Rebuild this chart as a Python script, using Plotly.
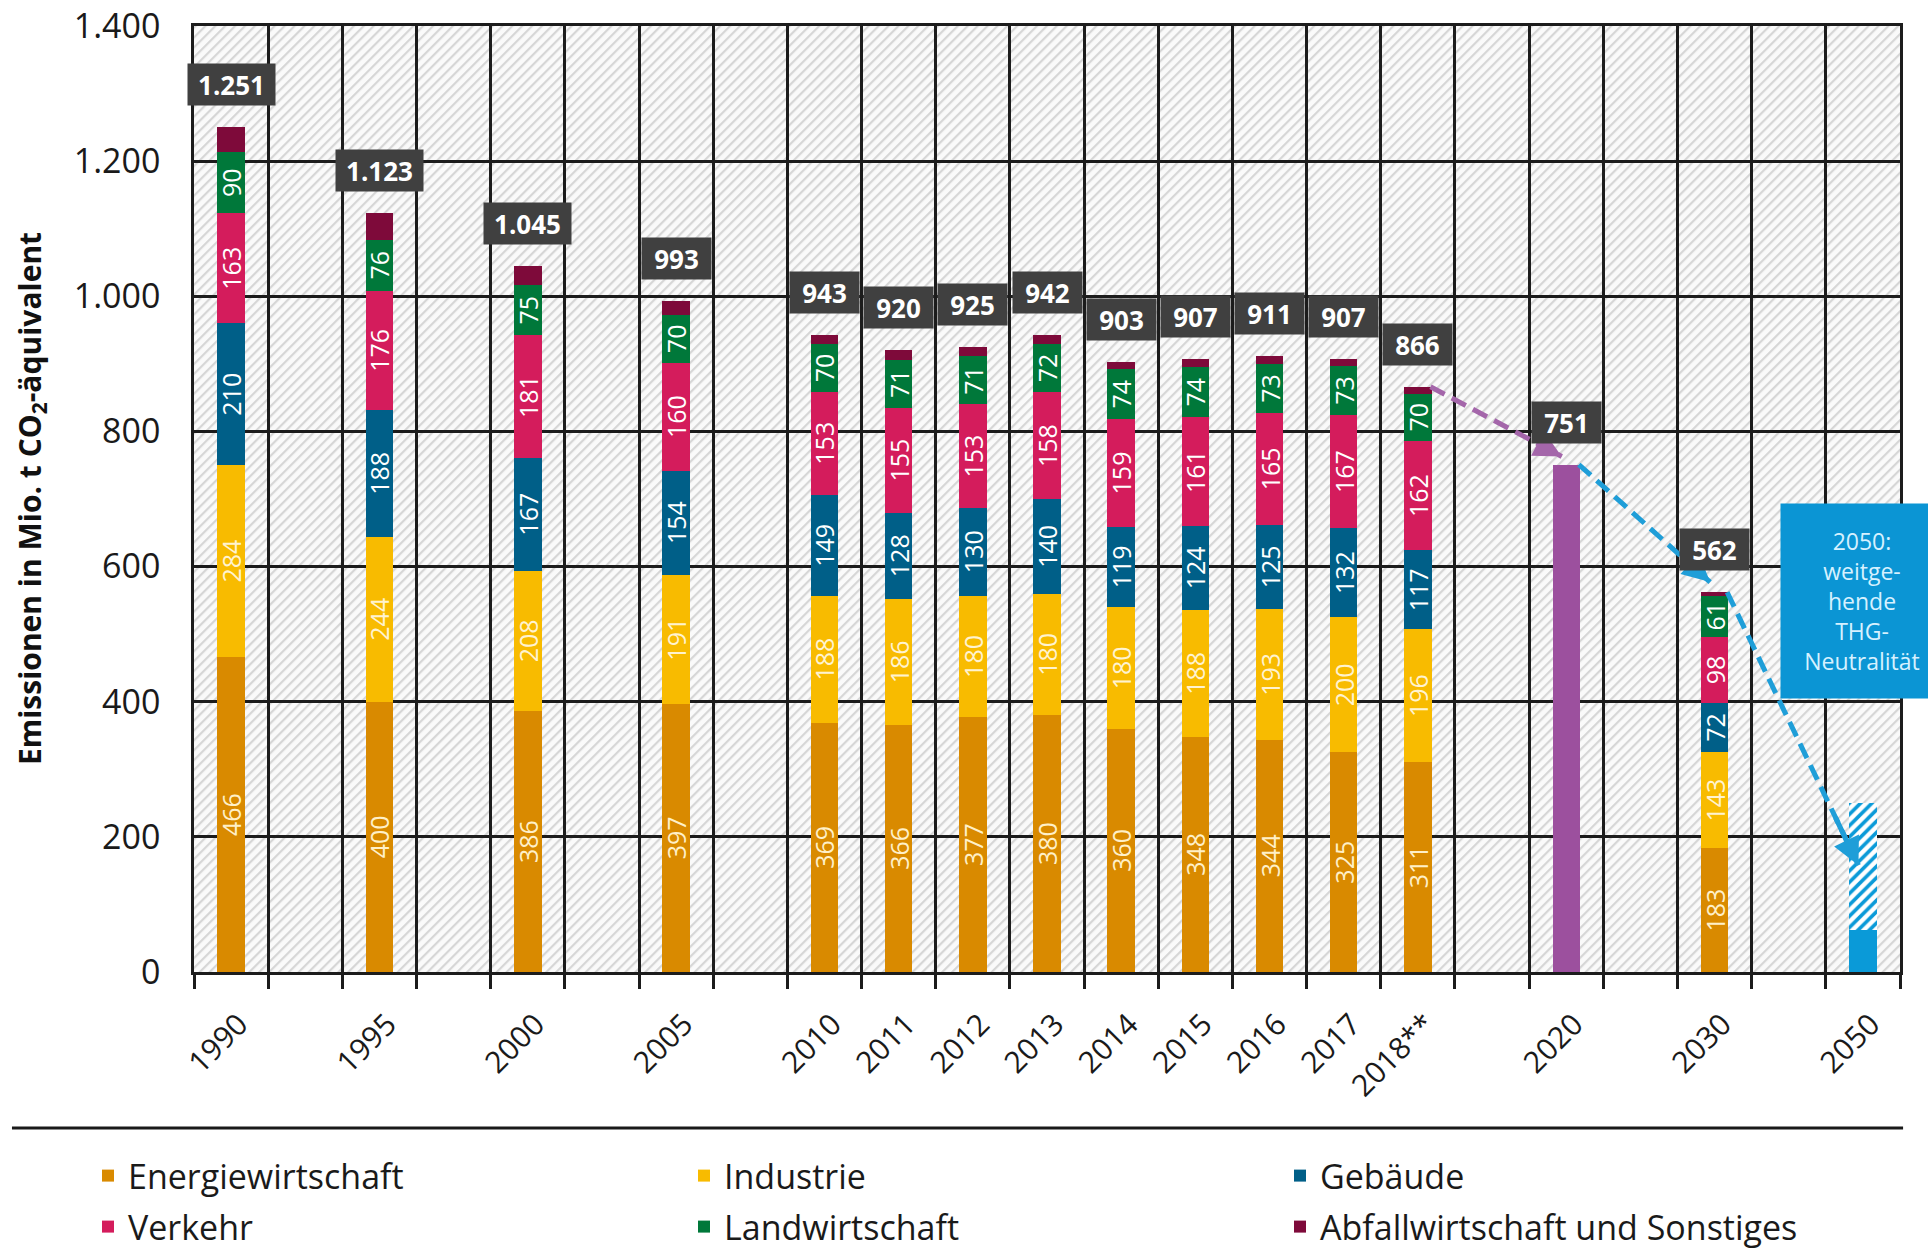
import base64
import plotly.graph_objects as go

# ---------------- data ----------------
slots = ["1990", None, "1995", None, "2000", None, "2005", None,
         "2010", "2011", "2012", "2013", "2014", "2015", "2016", "2017", "2018**",
         None, "2020", None, "2030", None, "2050"]

sector_years = ["1990", "1995", "2000", "2005", "2010", "2011", "2012", "2013",
                "2014", "2015", "2016", "2017", "2018**", "2030"]
energiewirtschaft = [466, 400, 386, 397, 369, 366, 377, 380, 360, 348, 344, 325, 311, 183]
industrie = [284, 244, 208, 191, 188, 186, 180, 180, 180, 188, 193, 200, 196, 143]
gebaeude = [210, 188, 167, 154, 149, 128, 130, 140, 119, 124, 125, 132, 117, 72]
verkehr = [163, 176, 181, 160, 153, 155, 153, 158, 159, 161, 165, 167, 162, 98]
landwirtschaft = [90, 76, 75, 70, 70, 71, 71, 72, 74, 74, 73, 73, 70, 61]
abfall = [38, 39, 28, 21, 14, 14, 14, 12, 11, 12, 11, 10, 10, 5]
totals = [1251, 1123, 1045, 993, 943, 920, 925, 942, 903, 907, 911, 907, 866, 562]

target_2020_year = "2020"
target_2020 = 751
target_2050_year = "2050"
target_2050_low = 62.5
target_2050_high = 250

# trend arrows: (from year, from value, to year, arrow tip value)
arrow_from_years = ["2018**", "2020", "2030"]
arrow_from_values = [866, 751, 562]
arrow_to_years = ["2020", "2030", "2050"]
arrow_tip_values = [763, 577, 158]

y_ticks = [0, 200, 400, 600, 800, 1000, 1200, 1400]
y_title = "Emissionen in Mio. t CO<sub>2</sub>-äquivalent"
box_2050_text = "2050:<br>weitge-<br>hende<br>THG-<br>Neutralität"

sector_names = ["Energiewirtschaft", "Industrie", "Gebäude", "Verkehr",
                "Landwirtschaft", "Abfallwirtschaft und Sonstiges"]
sector_values = [energiewirtschaft, industrie, gebaeude, verkehr, landwirtschaft, abfall]
sector_colors = ["#d98a00", "#f8bb00", "#005f88", "#d41c5c", "#00783a", "#7e0a3a"]
text_colors = ["#fff0c8", "#fff3d0", "white", "white", "white", "white"]
show_text = [True, True, True, True, True, False]

# legend placement (container pixels): three columns, two rows
legend_x_px = [88, 684, 1280, 88, 684, 1280]
legend_y_px = [1176, 1176, 1176, 1227, 1227, 1227]

pos = {lab: i for i, lab in enumerate(slots) if lab}
FONT = "Open Sans"
BAR_W = 0.37
W, H = 1928, 1250

fig = go.Figure()

sx = [pos[y] for y in sector_years]
for k, (name, vals, col, tcol, st) in enumerate(zip(sector_names, sector_values,
                                                    sector_colors, text_colors, show_text)):
    fig.add_trace(go.Bar(
        x=sx, y=vals, name=name, width=BAR_W,
        marker=dict(color=col, line=dict(width=0)),
        text=[str(v) for v in vals] if st else None,
        textposition="inside" if st else "none",
        insidetextanchor="middle", textangle=-90,
        textfont=dict(color=tcol, size=25, family=FONT),
        legend="legend" if k == 0 else f"legend{k + 1}",
        hoverinfo="name+y",
    ))

# 2020 target bar
fig.add_trace(go.Bar(
    x=[pos[target_2020_year]], y=[target_2020], width=BAR_W,
    marker=dict(color="#9c509e", line=dict(width=0)), showlegend=False,
))
# 2050 target: solid lower part and hatched range
fig.add_trace(go.Bar(
    x=[pos[target_2050_year]], y=[target_2050_low], width=BAR_W,
    marker=dict(color="#0a9ad8", line=dict(width=0)), showlegend=False,
))
fig.add_trace(go.Bar(
    x=[pos[target_2050_year]], y=[target_2050_high - target_2050_low], width=BAR_W,
    marker=dict(color="#0a9ad8", line=dict(width=0),
                pattern=dict(shape="/", fgcolor="#0a9ad8", bgcolor="white",
                             size=8, solidity=0.45)),
    showlegend=False,
))

annotations = []

# dashed trend arrows
arrow_colors = ["#a466aa", "#1f9ed8", "#1f9ed8"]
for y0, v0, y1, v1, col in zip(arrow_from_years, arrow_from_values,
                               arrow_to_years, arrow_tip_values, arrow_colors):
    x0, x1 = pos[y0] + 0.17, pos[y1] - 0.06
    fig.add_trace(go.Scatter(
        x=[x0, x1], y=[v0, v1], mode="lines",
        line=dict(color=col, width=5, dash="16px,8px"),
        showlegend=False, hoverinfo="skip",
    ))
    f = 0.82
    annotations.append(dict(
        x=x1, y=v1, ax=x0 + f * (x1 - x0), ay=v0 + f * (v1 - v0),
        xref="x", yref="y", axref="x", ayref="y", text="",
        showarrow=True, arrowhead=2, arrowsize=1.1, arrowwidth=5,
        arrowcolor=col, standoff=0,
    ))

# total value boxes
label_years = sector_years + [target_2020_year]
label_totals = totals + [target_2020]
for yr, tot in zip(label_years, label_totals):
    txt = f"{tot:,}".replace(",", ".")
    nd = sum(c.isdigit() for c in txt)
    nd_dot = txt.count(".")
    annotations.append(dict(
        x=pos[yr], y=tot, xref="x", yref="y", text=txt, showarrow=False,
        yanchor="bottom", yshift=21, bgcolor="#404040", borderpad=5,
        width=13 * nd + 5 * nd_dot + 20, height=31,
        font=dict(color="white", size=26, family=FONT, weight="bold"),
    ))

annotations.append(dict(
    x=0.9777, y=0.3917, xref="paper", yref="paper", text=box_2050_text,
    showarrow=False, xanchor="center", yanchor="middle",
    bgcolor="#0b95d4", width=150, height=182, borderpad=6,
    font=dict(color="#d6f1ff", size=23, family=FONT),
))

# y axis title
annotations.append(dict(
    x=-0.0955, y=0.5, xref="paper", yref="paper", text=y_title,
    textangle=-90, showarrow=False, xanchor="center", yanchor="middle",
    font=dict(size=30, family=FONT, weight="bold", color="#111"),
))

# hatched plot background
svg = ("<svg xmlns='http://www.w3.org/2000/svg' width='1706' height='946'>"
       "<defs><pattern id='p' width='7' height='7' patternUnits='userSpaceOnUse' "
       "patternTransform='rotate(45)'><rect width='7' height='7' fill='#fafafa'/>"
       "<line x1='1' y1='0' x2='1' y2='7' stroke='#d6d6d6' stroke-width='2.4'/>"
       "</pattern></defs><rect width='100%' height='100%' fill='url(#p)'/></svg>")
bg_src = "data:image/svg+xml;base64," + base64.b64encode(svg.encode()).decode()

labeled = [(i, lab) for i, lab in enumerate(slots) if lab]
GRID = "#1c1c1c"

legends = {}
for k in range(len(sector_names)):
    key = "legend" if k == 0 else f"legend{k + 1}"
    legends[key] = dict(
        orientation="v", xref="container", yref="container",
        x=legend_x_px[k] / W, y=1 - legend_y_px[k] / H,
        xanchor="left", yanchor="middle",
        font=dict(size=34, family=FONT, color="#1a1a1a"),
        bgcolor="rgba(0,0,0,0)",
    )

fig.update_layout(
    width=W, height=H,
    margin=dict(l=194, r=28, t=26, b=278, autoexpand=False),
    template="none",
    barmode="stack",
    paper_bgcolor="white",
    plot_bgcolor="rgba(0,0,0,0)",
    separators=",.",
    font=dict(family=FONT, color="#1a1a1a"),
    uniformtext=dict(minsize=25, mode="show"),
    images=[dict(source=bg_src, xref="paper", yref="paper", x=0, y=1,
                 sizex=1, sizey=1, sizing="stretch", layer="below",
                 xanchor="left", yanchor="top")],
    xaxis=dict(
        range=[-0.5, len(slots) - 0.5], automargin=False,
        tickmode="array", tickvals=[i for i, _ in labeled],
        ticktext=[lab for _, lab in labeled], tickangle=-45,
        tickfont=dict(size=30, family=FONT, color="#1a1a1a"),
        ticks="", showgrid=False, zeroline=False,
        ticklabelstandoff=20, ticklabelshift=8,
        showline=True, linecolor=GRID, linewidth=2.5, mirror=True,
        minor=dict(tickvals=[i - 0.5 for i in range(len(slots) + 1)],
                   showgrid=True, gridcolor=GRID, gridwidth=2.5,
                   ticks="outside", ticklen=14, tickwidth=2.5, tickcolor=GRID),
    ),
    yaxis=dict(
        range=[0, 1400], automargin=False,
        tickmode="array", tickvals=y_ticks, tickformat=",d",
        tickfont=dict(size=34, family=FONT, color="#1a1a1a"),
        ticklabeloverflow="allow",
        showgrid=True, gridcolor=GRID, gridwidth=2.5, zeroline=False,
        ticks="", ticklabelstandoff=24,
        showline=True, linecolor=GRID, linewidth=2.5, mirror=True,
    ),
    annotations=annotations,
    shapes=[dict(type="line", xref="paper", yref="paper",
                 x0=-0.1067, x1=1.0018, y0=-0.1649, y1=-0.1649,
                 line=dict(color="#1a1a1a", width=3))],
    showlegend=True,
    **legends,
)

fig.write_html("out.html")
